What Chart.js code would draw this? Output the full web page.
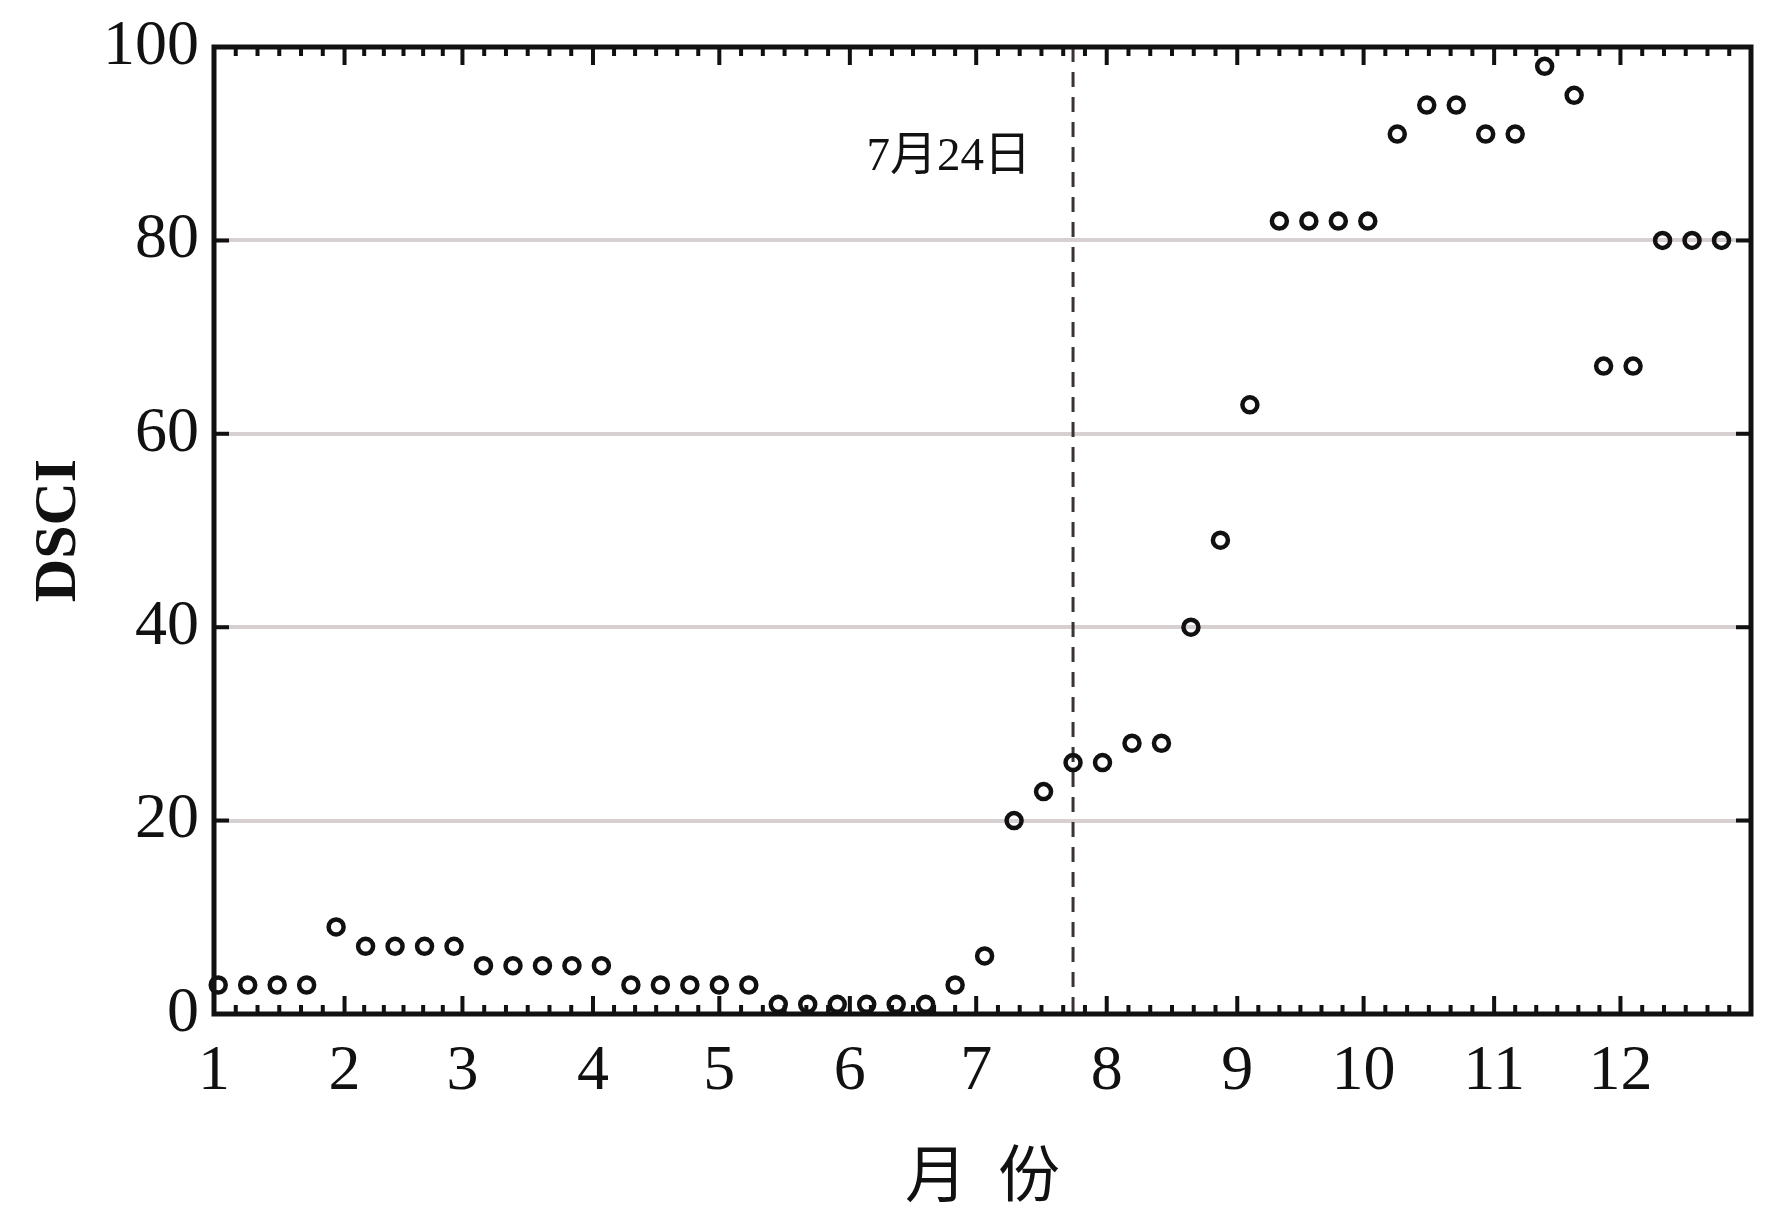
<!DOCTYPE html>
<html lang="zh">
<head>
  <meta charset="UTF-8" />
  <title>DSCI 2018</title>
  <script src="https://cdn.jsdelivr.net/npm/chart.js"></script>
  <style>
    html, body { margin: 0; padding: 0; background: #fff; }
    #wrap { width: 1772px; height: 1232px; }
  </style>
</head>
<body>
  <div id="wrap"><canvas id="dsciChart" width="1772" height="1232"></canvas></div>

  <script>
    // weekly DSCI dates, as day of year (0 = Jan 1), Tuesdays
    const weekDays = [
      1, 8, 15, 22, 29, 36, 43, 50, 57, 64, 71, 78, 85,
      92, 99, 106, 113, 120, 127, 134, 141, 148, 155, 162, 169, 176,
      183, 190, 197, 204, 211, 218, 225, 232, 239, 246, 253, 260, 267,
      274, 281, 288, 295, 302, 309, 316, 323, 330, 337, 344, 351, 358
    ];

    // DSCI values
    const dsci = [
      3, 3, 3, 3, 9, 7, 7, 7, 7, 5, 5, 5, 5,
      5, 3, 3, 3, 3, 3, 1, 1, 1, 1, 1, 1, 3,
      6, 20, 23, 26, 26, 28, 28, 40, 49, 63, 82, 82, 82,
      82, 91, 94, 94, 91, 91, 98, 95, 67, 67, 80, 80, 80
    ];

    // month boundaries (day of year) and their labels
    const monthStarts = [0, 31, 59, 90, 120, 151, 181, 212, 243, 273, 304, 334, 365];
    const monthLabels = ["1", "2", "3", "4", "5", "6", "7", "8", "9", "10", "11", "12"];
    const yTicks = [0, 20, 40, 60, 80, 100];

    // marker line
    const markDay = 204;
    const markLabel = "7月24日";

    const serif = "'Liberation Serif', 'Times New Roman', 'Noto Sans CJK SC', serif";

    // frame, inward ticks and the dashed marker
    const frameTicks = {
      id: "frameTicks",
      beforeDatasetsDraw(chart) {
        const { ctx, chartArea: a, scales: { x, y } } = chart;
        const px = x.getPixelForValue(markDay);
        ctx.save();
        ctx.strokeStyle = "#3a3333";
        ctx.lineWidth = 3;
        ctx.setLineDash([15, 10]);
        ctx.beginPath();
        ctx.moveTo(px, a.top);
        ctx.lineTo(px, a.bottom);
        ctx.stroke();
        ctx.setLineDash([]);
        ctx.fillStyle = "#111";
        ctx.font = "47px " + serif;
        ctx.textAlign = "right";
        ctx.textBaseline = "middle";
        ctx.fillText(markLabel, px - 42, y.getPixelForValue(88.6));
        ctx.restore();
      },
      afterDatasetsDraw(chart) {
        const { ctx, chartArea: a, scales: { x, y } } = chart;
        ctx.save();
        ctx.strokeStyle = "#111";
        ctx.lineWidth = 4;
        ctx.beginPath();
        for (let i = 0; i < monthStarts.length - 1; i++) {
          const s = monthStarts[i], len = monthStarts[i + 1] - s;
          for (let k = 0; k < 6; k++) {
            const px = x.getPixelForValue(s + k * len / 6);
            const tl = k === 0 ? 18 : 9;
            ctx.moveTo(px, a.bottom);
            ctx.lineTo(px, a.bottom - tl);
            ctx.moveTo(px, a.top);
            ctx.lineTo(px, a.top + tl);
          }
        }
        yTicks.forEach(v => {
          const py = y.getPixelForValue(v);
          ctx.moveTo(a.left, py);
          ctx.lineTo(a.left + 15, py);
          ctx.moveTo(a.right, py);
          ctx.lineTo(a.right - 15, py);
        });
        ctx.stroke();
        ctx.lineWidth = 5;
        ctx.strokeRect(a.left, a.top, a.right - a.left, a.bottom - a.top);
        ctx.restore();
      }
    };

    const ctx = document.getElementById("dsciChart").getContext("2d");

    new Chart(ctx, {
      type: "scatter",
      data: {
        datasets: [{
          data: weekDays.map((d, i) => ({ x: d, y: dsci[i] })),
          pointStyle: "circle",
          pointRadius: 7.5,
          pointBorderWidth: 4.5,
          borderColor: "#111",
          backgroundColor: "rgba(0,0,0,0)",
          clip: false
        }]
      },
      plugins: [frameTicks],
      options: {
        responsive: false,
        animation: false,
        events: [],
        layout: { padding: { left: 23, right: 21, top: 46, bottom: 14 } },
        plugins: {
          legend: { display: false },
          tooltip: { enabled: false }
        },
        scales: {
          x: {
            type: "linear",
            min: 0,
            max: 365,
            afterBuildTicks: s => {
              s.ticks = monthStarts.slice(0, 12).map(v => ({ value: v }));
            },
            afterFit: s => { s.height = 204; },
            ticks: {
              autoSkip: false,
              maxRotation: 0,
              padding: 12,
              color: "#111",
              font: { family: serif, size: 64 },
              callback: v => monthLabels[monthStarts.indexOf(v)]
            },
            grid: { display: false },
            border: { display: false },
            title: {
              display: true,
              text: "月  份",
              color: "#111",
              font: { family: serif, size: 62 },
              padding: { top: 0, bottom: 0 }
            }
          },
          y: {
            min: 0,
            max: 100,
            afterFit: s => { s.width = 191; },
            ticks: {
              stepSize: 20,
              padding: 15,
              color: "#111",
              font: { family: serif, size: 64, lineHeight: 1 }
            },
            grid: {
              drawTicks: false,
              lineWidth: 4,
              color: c => (c.tick.value === 0 || c.tick.value === 100) ? "rgba(0,0,0,0)" : "#d6d0d0"
            },
            border: { display: false },
            title: {
              display: true,
              text: "DSCI",
              color: "#111",
              font: { family: serif, size: 60, weight: "bold" },
              padding: { top: 0, bottom: 0 }
            }
          }
        }
      }
    });
  </script>
</body>
</html>
